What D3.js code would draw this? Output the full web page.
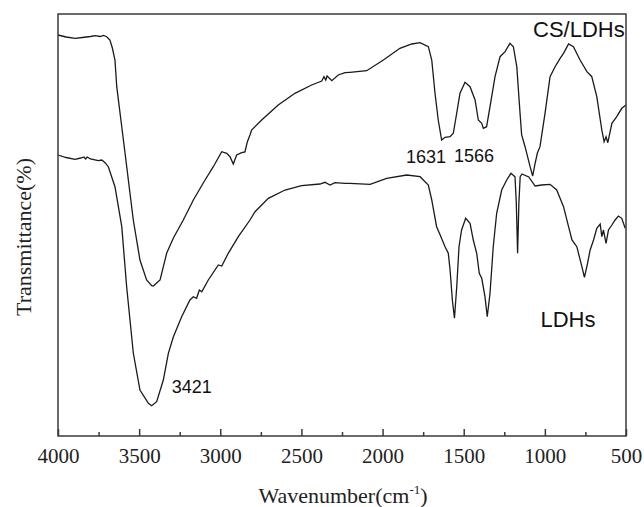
<!DOCTYPE html>
<html>
<head>
    <meta charset="utf-8">
    <title>FTIR spectra of CS/LDHs and LDHs</title>
    <script type="text/javascript" src="https://d3js.org/d3.v7.min.js"></script>
    <style>
        body {
            margin: 0;
            background: white;
        }

        .curve {
            fill: none;
            stroke: #1a1a1a;
            stroke-width: 1.3px;
        }

        .frame {
            fill: none;
            stroke: #3a3a3a;
            stroke-width: 1.5px;
        }

        .axis-title {
            font-family: "Liberation Serif", "Times New Roman", serif;
            font-size: 22px;
            fill: #222;
        }

        .note {
            font-family: "Liberation Sans", Arial, sans-serif;
            fill: #111;
        }
    </style>
</head>
<body>
<div id="chart"></div>

<script>
    // wavenumber (cm-1) and transmittance (arbitrary units, curves are offset)
    var csWave = [4000, 3950, 3895, 3850, 3800, 3772, 3740, 3720, 3700, 3680, 3665, 3649, 3638, 3587, 3536, 3495,
        3454, 3423, 3413, 3371, 3330, 3289, 3228, 3166, 3105, 3043, 2991, 2960, 2940, 2920, 2899, 2868, 2848, 2833,
        2817, 2807, 2745, 2643, 2540, 2437, 2375, 2361, 2350, 2342, 2313, 2273, 2231, 2201, 2098, 1995, 1893, 1820,
        1769, 1718, 1697, 1677, 1657, 1636, 1615, 1584, 1564, 1543, 1523, 1492, 1461, 1430, 1410, 1389, 1379, 1359,
        1338, 1307, 1276, 1245, 1215, 1194, 1173, 1153, 1143, 1122, 1091, 1075, 1060, 1046, 1030, 999, 968, 937, 906,
        885, 854, 824, 783, 741, 711, 680, 649, 635, 623, 612, 587, 557, 526, 500];
    var csTrans = [401, 399, 397.7, 398.5, 399.5, 400.3, 399.5, 400.5, 399.3, 396, 388, 376, 349.3, 283, 216, 176,
        156, 150.3, 150, 156, 183, 198, 216, 236, 253, 269.3, 284.3, 282.7, 279.3, 272, 281, 283.3, 284, 294.3,
        301, 306, 316, 331, 342.7, 351, 355, 359.3, 356, 360, 355.3, 361, 363.3, 363.7, 365.3, 376, 387.7, 392,
        393.3, 389.3, 376, 343, 316, 296, 298.7, 299.3, 302.7, 323, 342.7, 353.7, 349.3, 336, 316, 312.7, 307.7, 309.3,
        329.3, 359.3, 379.3, 384.3, 392.7, 389.3, 369.3, 323, 301, 289.3, 269.3, 260, 272.7, 283, 289.3, 322.7, 359.3,
        369.3, 377.7, 382.7, 392, 389.3, 376, 364.3, 359.3, 339.3, 306, 294.3, 299.3, 293.3, 312.7, 319.3, 327.7, 331];

    var ldhWave = [4000, 3950, 3895, 3860, 3840, 3830, 3820, 3800, 3752, 3730, 3710, 3690, 3649, 3607, 3577, 3536,
        3495, 3443, 3423, 3392, 3351, 3320, 3289, 3238, 3187, 3166, 3146, 3129, 3114, 3074, 3012, 2991, 2951, 2889,
        2817, 2786, 2704, 2601, 2499, 2386, 2355, 2324, 2293, 2231, 2201, 2077, 1975, 1851, 1769, 1718, 1697, 1667,
        1645, 1615, 1595, 1584, 1570, 1557, 1543, 1529, 1513, 1488, 1461, 1441, 1420, 1404, 1389, 1369, 1355, 1338,
        1318, 1297, 1266, 1235, 1209, 1184, 1176, 1168, 1160, 1152, 1141, 1099, 1060, 1019, 968, 927, 885, 854, 833,
        803, 772, 756, 737, 721, 700, 680, 659, 649, 639, 623, 608, 587, 567, 547, 526, 505];
    var ldhTrans = [281, 278.5, 276.7, 278, 279, 277, 279, 277, 275.3, 276, 273.3, 269.3, 249.3, 209.3, 149.3, 83,
        46, 32.7, 30.3, 34.3, 56, 82.7, 99.3, 119.3, 136, 139.3, 137.7, 146, 144.3, 156, 171, 170, 182.7, 199.3,
        216, 224.3, 237.7, 246, 250.3, 252, 253.7, 251, 253.3, 252.7, 252.7, 251.7, 257.7, 261, 259.3, 251, 236, 209.3,
        201, 189.3, 182.7, 166, 136, 117.7, 149.3, 189.3, 206, 217.7, 212.7, 196, 182.7, 162.7, 157.7, 139.3, 119.3, 142.7,
        189.3, 222.7, 246, 256, 262.7, 259.3, 233, 182.7, 233, 259.3, 262, 259, 250, 251, 251.7, 246, 229.3, 209.3, 196,
        189.3, 169.3, 158.7, 172.7, 186, 196, 207.7, 212, 199.3, 206, 192.7, 206, 211, 216, 220, 217.7, 207.7];

    var xTicks = [4000, 3500, 3000, 2500, 2000, 1500, 1000, 500];
    var xMinorTicks = [3750, 3250, 2750, 2250, 1750, 1250, 750];

    var seriesNames = ["CS/LDHs", "LDHs"];
    var peakLabels = ["1631", "1566", "3421"];
    var peakWaves = [1609, 1560, 3299];
    var peakTrans = [273, 274, 43.3];

    var margin = {top: 14, right: 18, bottom: 71, left: 58},
        width = 644 - margin.left - margin.right,
        height = 507 - margin.top - margin.bottom;

    var svg = d3.select("#chart")
        .append("svg")
        .attr("width", 644)
        .attr("height", 507);

    var g = svg.append("g")
        .attr("transform", "translate(" + margin.left + "," + margin.top + ")");

    var x = d3.scaleLinear()
        .domain([4000, 500])
        .range([0, width]);

    var y = d3.scaleLinear()
        .domain([0, 422])
        .range([height, 0]);

    var line = d3.line()
        .x(function (d) {
            return x(d[0]);
        })
        .y(function (d) {
            return y(d[1]);
        });

    var csData = d3.zip(csWave, csTrans);
    var ldhData = d3.zip(ldhWave, ldhTrans);

    g.append("path")
        .datum(csData)
        .attr("class", "curve")
        .attr("d", line);

    g.append("path")
        .datum(ldhData)
        .attr("class", "curve")
        .attr("d", line);

    // frame
    g.append("rect")
        .attr("class", "frame")
        .attr("width", width)
        .attr("height", height);

    // bottom axis, ticks pointing inward
    var xAxis = g.append("g")
        .attr("transform", "translate(0," + height + ")")
        .call(d3.axisBottom(x)
            .tickValues(xTicks)
            .tickSize(-7)
            .tickPadding(12)
            .tickFormat(d3.format("d")));

    xAxis.attr("font-family", null).attr("font-size", null);
    xAxis.select(".domain").remove();
    xAxis.selectAll(".tick line")
        .attr("stroke", "#3a3a3a")
        .attr("stroke-width", 1.5);
    xAxis.selectAll(".tick text")
        .style("font-family", "'Liberation Serif', 'Times New Roman', serif")
        .style("font-size", "21px")
        .style("fill", "#222");

    g.append("g")
        .attr("transform", "translate(0," + height + ")")
        .call(d3.axisBottom(x)
            .tickValues(xMinorTicks)
            .tickSize(-4)
            .tickFormat(""))
        .call(function (a) {
            a.select(".domain").remove();
            a.selectAll(".tick line")
                .attr("stroke", "#3a3a3a")
                .attr("stroke-width", 1.5);
        });

    // axis titles
    var xTitle = svg.append("text")
        .attr("class", "axis-title")
        .attr("x", margin.left + width / 2 + 1)
        .attr("y", 503)
        .attr("text-anchor", "middle");
    xTitle.append("tspan").text("Wavenumber(cm");
    xTitle.append("tspan")
        .attr("dy", -9)
        .attr("font-size", "13px")
        .text("-1");
    xTitle.append("tspan")
        .attr("dy", 9)
        .text(")");

    svg.append("text")
        .attr("class", "axis-title")
        .attr("transform", "translate(31,237) rotate(-90)")
        .attr("text-anchor", "middle")
        .text("Transmittance(%)");

    // series labels
    g.append("text")
        .attr("class", "note")
        .attr("x", x(508))
        .attr("y", y(398.7))
        .attr("text-anchor", "end")
        .style("font-size", "22px")
        .text(seriesNames[0]);

    g.append("text")
        .attr("class", "note")
        .attr("x", x(1027))
        .attr("y", y(109.3))
        .style("font-size", "22px")
        .text(seriesNames[1]);

    // peak annotations
    peakLabels.forEach(function (lab, i) {
        g.append("text")
            .attr("class", "note")
            .attr("x", x(peakWaves[i]))
            .attr("y", y(peakTrans[i]))
            .attr("text-anchor", i === 0 ? "end" : "start")
            .style("font-size", "18px")
            .text(lab);
    });
</script>
</body>
</html>
